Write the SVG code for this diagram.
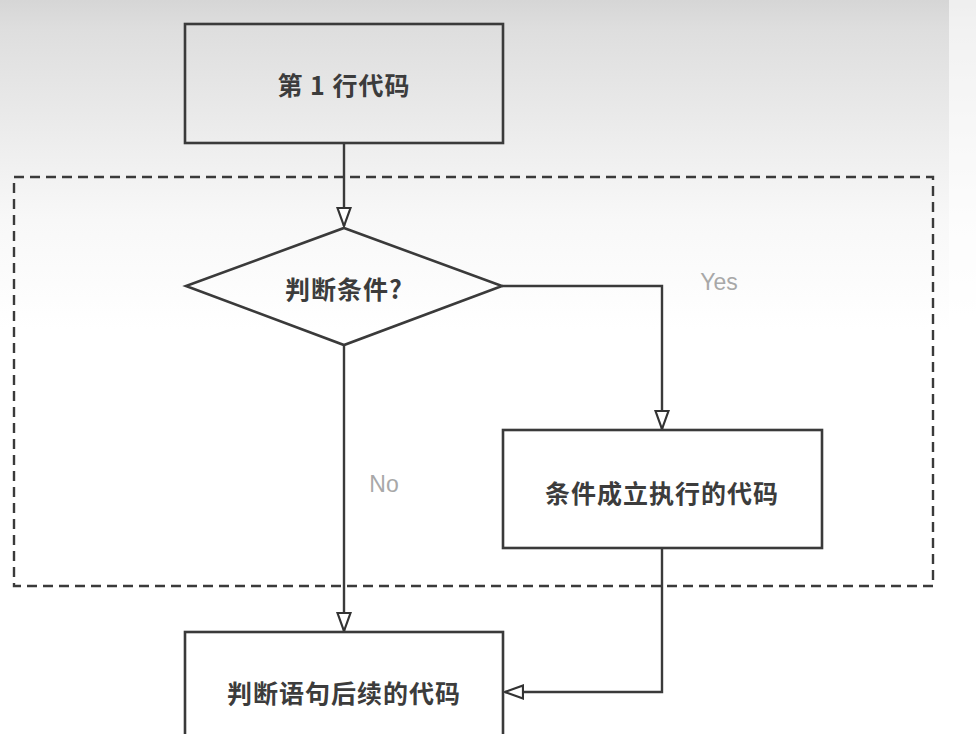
<svg xmlns="http://www.w3.org/2000/svg" width="976" height="734" viewBox="0 0 976 734">
<defs>
<linearGradient id="bg" x1="0" y1="0" x2="0" y2="1">
<stop offset="0" stop-color="#d6d6d6"/>
<stop offset="0.04" stop-color="#dedede"/>
<stop offset="0.3" stop-color="#f8f8f8"/>
<stop offset="0.45" stop-color="#ffffff"/>
<stop offset="1" stop-color="#ffffff"/>
</linearGradient>
<marker id="arr" viewBox="0 0 20 16" refX="19" refY="8" markerWidth="20" markerHeight="16" markerUnits="userSpaceOnUse" orient="auto">
<path d="M1,1.5 L19,8 L1,14.5 Z" fill="#fff" stroke="#333" stroke-width="2.2" stroke-linejoin="miter"/>
</marker>
</defs>
<style>
.shape{fill:none;stroke:#3a3a3a;stroke-width:2.6}
.conn{fill:none;stroke:#3a3a3a;stroke-width:2.4}
.lbl{font-family:"Noto Sans CJK SC","Liberation Sans",sans-serif;font-size:25px;font-weight:bold;fill:#3c3c3c;text-anchor:middle;dominant-baseline:central;letter-spacing:1px}
.yn{font-family:"Liberation Sans","Noto Sans",sans-serif;font-size:23px;fill:#a8a8a8;text-anchor:middle;dominant-baseline:central}
</style>
<rect x="0" y="0" width="976" height="734" fill="url(#bg)"/>
<rect x="949" y="0" width="27" height="734" fill="#ffffff" opacity="0.6"/>
<g id="region">
<rect x="14" y="177" width="919" height="409" fill="none" stroke="#3a3a3a" stroke-width="2.4" stroke-dasharray="10,6"/>
</g>
<g id="connectors">
<path class="conn" d="M344,143 L344,226" marker-end="url(#arr)"/>
<path class="conn" d="M502,286 L662,286 L662,429" marker-end="url(#arr)"/>
<path class="conn" d="M344,345 L344,631" marker-end="url(#arr)"/>
<path class="conn" d="M662,548 L662,692 L505,692" marker-end="url(#arr)"/>
<text class="yn" x="719" y="282">Yes</text>
<text class="yn" x="384" y="484">No</text>
</g>
<g id="start">
<rect class="shape" x="185" y="24" width="318" height="119"/>
<text class="lbl" x="344" y="84">第 1 行代码</text>
</g>
<g id="decision">
<polygon class="shape" points="344,228 502,286 344,345 186,286" fill="#fff"/>
<text class="lbl" x="344" y="288">判断条件?</text>
</g>
<g id="action">
<rect class="shape" x="503" y="430" width="319" height="118" fill="#fff"/>
<text class="lbl" x="662" y="492">条件成立执行的代码</text>
</g>
<g id="after">
<rect class="shape" x="185" y="632" width="318" height="120" fill="#fff"/>
<text class="lbl" x="344" y="692">判断语句后续的代码</text>
</g>
</svg>
